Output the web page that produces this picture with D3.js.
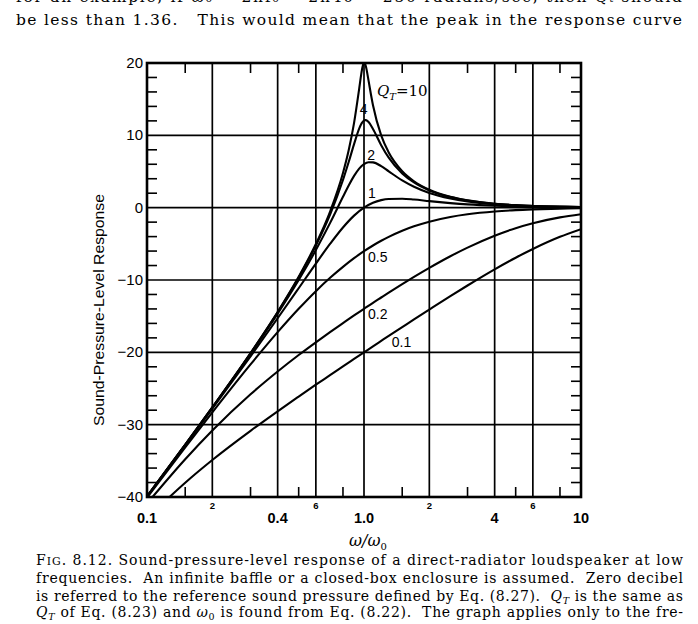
<!DOCTYPE html>
<html><head><meta charset="utf-8">
<script src="https://cdn.jsdelivr.net/npm/d3@7"></script>
<style>
html,body{margin:0;padding:0;background:#fff;}
svg{display:block;}
</style></head>
<body>
<svg id="c" width="698" height="624"></svg>
<script>
// ---- data ----
const xPeak = [0.1,0.15,0.2,0.3,0.4,0.5,0.6,0.7,0.8,0.85,0.9,0.95,0.97,0.98,0.99,1.0,1.01,1.02,1.03,1.05,1.1,1.2,1.3,1.5,1.7,2,2.5,3,4,5,6,8,10];
const q10 = [-39.91,-32.76,-27.61,-20.11,-14.42,-9.56,-5.03,-0.43,4.79,7.93,11.72,16.43,18.36,19.17,19.74,20.0,19.92,19.54,18.95,17.52,14.16,9.99,7.63,5.04,3.65,2.48,1.51,1.01,0.55,0.35,0.24,0.14,0.09];
const q4  = [-39.92,-32.77,-27.62,-20.13,-14.47,-9.66,-5.23,-0.84,3.83,6.31,8.79,10.92,11.53,11.76,11.93,12.04,12.10,12.10,12.06,11.85,10.88,8.64,6.91,4.73,3.48,2.38,1.46,0.98,0.54,0.34,0.24,0.13,0.08];
const xMid = [0.1,0.15,0.2,0.3,0.4,0.5,0.6,0.7,0.8,0.85,0.9,0.95,1.0,1.05,1.1,1.2,1.3,1.5,1.7,2,2.5,3,4,5,6,8,10];
const q2  = [-39.92,-32.79,-27.65,-20.22,-14.65,-10.0,-5.86,-2.03,1.50,3.07,4.39,5.40,6.02,6.28,6.26,5.74,5.02,3.77,2.89,2.04,1.28,0.87,0.48,0.31,0.21,0.12,0.08];
const xBase = [0.1,0.15,0.2,0.3,0.4,0.5,0.6,0.7,0.8,0.9,1.0,1.1,1.2,1.3,1.5,1.7,2,2.5,3,4,5,6,8,10];
const q1  = [-39.96,-32.86,-27.79,-20.55,-15.29,-11.14,-7.73,-4.95,-2.74,-1.10,0,0.68,1.04,1.20,1.23,1.12,0.90,0.63,0.45,0.26,0.17,0.12,0.07,0.04];
const q05 = [-40.09,-33.15,-28.30,-21.67,-17.21,-13.98,-11.54,-9.66,-8.18,-6.98,-6.02,-5.23,-4.58,-4.04,-3.19,-2.58,-1.94,-1.29,-0.92,-0.53,-0.34,-0.24,-0.13,-0.09];
const q02 = [-40.90,-34.77,-30.80,-25.80,-22.65,-20.37,-18.61,-17.17,-15.96,-14.90,-13.98,-13.15,-12.42,-11.75,-10.58,-9.58,-8.33,-6.72,-5.53,-3.88,-2.83,-2.15,-1.34,-0.90];
const q01 = [-42.97,-38.02,-34.88,-30.85,-28.15,-26.12,-24.48,-23.13,-21.95,-20.92,-20.0,-19.17,-18.42,-17.73,-16.51,-15.44,-14.08,-12.23,-10.76,-8.53,-6.92,-5.71,-4.03,-2.97];

const yTicks = [20,10,0,-10,-20,-30,-40];
const yTickLabels = ["20","10","0","\u221210","\u221220","\u221230","\u221240"];
const yMinor = [18,16,14,12,8,6,4,2,-2,-4,-6,-8,-12,-14,-16,-18,-22,-24,-26,-28,-32,-34,-36,-38];
const xGrid = [0.2,0.4,0.6,1,2,4,6];
const xMinor = [0.15,0.3,0.5,0.8,1.5,3,5,8];
const xMajorLabels = [[0.1,"0.1"],[0.4,"0.4"],[1,"1.0"],[4,"4"],[10,"10"]];
const xSmallLabels = [[0.2,"2"],[0.6,"6"],[2,"2"],[6,"6"]];
const curveLabels = [
  {t:"4", x:0.995, y:13.0, a:"middle"},
  {t:"2", x:1.035, y:6.6, a:"start"},
  {t:"1", x:1.043, y:1.4, a:"start"},
  {t:"0.5", x:1.043, y:-7.5, a:"start"},
  {t:"0.2", x:1.043, y:-15.4, a:"start"},
  {t:"0.1", x:1.343, y:-19.3, a:"start"}
];

const svg = d3.select("#c");
const L = 147, R = 581, T = 63, B = 497;
const x = d3.scaleLog().domain([0.1,10]).range([L,R]);
const y = d3.scaleLinear().domain([-40,20]).range([B,T]);

const serif = "'DejaVu Serif','Liberation Serif',serif";
const sans = "'Liberation Sans',Arial,sans-serif";

function textLine(px, py, segs, size, width){
  const t = svg.append("text").attr("x",px).attr("y",py).attr("font-family",serif)
    .attr("font-size",size).attr("xml:space","preserve");
  if(width) t.attr("textLength",width).attr("lengthAdjust","spacing");
  segs.forEach(s=>{
    const sp = t.append("tspan").text(s[0]);
    if(s[1]==="i") sp.attr("font-style","italic");
    if(s[1]==="sc") sp.attr("font-size",size*0.78);
    if(s[1]==="sub") sp.attr("font-style","italic").attr("font-size",size*0.68).attr("dy",2.5);
    if(s[1]==="subn") sp.attr("font-size",size*0.68).attr("dy",2.5);
    if(s[1]==="up") sp.attr("dy",-2.5);
  });
  return t;
}

// running text of the page above the figure (first line cut by the page edge, as in the scan)
svg.append("text").attr("x",16).attr("y",2).attr("font-family",serif).attr("font-size",15.5)
  .attr("textLength",666).attr("lengthAdjust","spacing")
  .text("for an example, if \u03c9\u2080 = 2\u03c0f\u2080 = 2\u03c040 = 250 radians/sec, then Q\u209c should");
textLine(16, 25, [["be less than 1.36.   This would mean that the peak in the response curve"]], 15.5, 666);

// grid
const g = svg.append("g");
g.selectAll(".vg").data(xGrid).join("line")
  .attr("x1",d=>x(d)).attr("x2",d=>x(d)).attr("y1",T).attr("y2",B)
  .attr("stroke","#000").attr("stroke-width",1.7);
g.selectAll(".hg").data(yTicks.slice(1,-1)).join("line")
  .attr("x1",L).attr("x2",R).attr("y1",d=>y(d)).attr("y2",d=>y(d))
  .attr("stroke","#000").attr("stroke-width",1.7);
const tl = 10;
g.selectAll(".ml").data(yMinor).join("line")
  .attr("x1",L).attr("x2",L+tl).attr("y1",d=>y(d)).attr("y2",d=>y(d))
  .attr("stroke","#000").attr("stroke-width",1.6);
g.selectAll(".mr").data(yMinor).join("line")
  .attr("x1",R-tl).attr("x2",R).attr("y1",d=>y(d)).attr("y2",d=>y(d))
  .attr("stroke","#000").attr("stroke-width",1.6);
g.selectAll(".mt").data(xMinor).join("line")
  .attr("x1",d=>x(d)).attr("x2",d=>x(d)).attr("y1",T).attr("y2",T+tl)
  .attr("stroke","#000").attr("stroke-width",1.6);
g.selectAll(".mb").data(xMinor).join("line")
  .attr("x1",d=>x(d)).attr("x2",d=>x(d)).attr("y1",B-tl).attr("y2",B)
  .attr("stroke","#000").attr("stroke-width",1.6);

// curves
svg.append("clipPath").attr("id","clip").append("rect")
  .attr("x",L).attr("y",T-1).attr("width",R-L).attr("height",B-T+1);
const line = d3.line().x(d=>x(d[0])).y(d=>y(d[1])).curve(d3.curveMonotoneX);
const series = [[xPeak,q10],[xPeak,q4],[xMid,q2],[xBase,q1],[xBase,q05],[xBase,q02],[xBase,q01]];
const cg = svg.append("g").attr("clip-path","url(#clip)");
series.forEach(([xs,ys])=>{
  cg.append("path").datum(xs.map((v,i)=>[v,ys[i]]))
    .attr("d",line).attr("fill","none").attr("stroke","#000")
    .attr("stroke-width",2.1).attr("stroke-linejoin","round");
});

// frame
svg.append("rect").attr("x",L).attr("y",T).attr("width",R-L).attr("height",B-T)
  .attr("fill","none").attr("stroke","#000").attr("stroke-width",2.6);

// y labels
svg.selectAll(".yl").data(yTicks).join("text")
  .attr("x",L-4).attr("y",d=>y(d)+5).attr("text-anchor","end")
  .attr("font-family",sans).attr("font-size",15).attr("fill","#000")
  .text((d,i)=>yTickLabels[i]);
// x labels
svg.selectAll(".xl").data(xMajorLabels).join("text")
  .attr("x",d=>x(d[0])).attr("y",523).attr("text-anchor","middle")
  .attr("font-family",sans).attr("font-size",14.5).attr("font-weight","bold").text(d=>d[1]);
svg.selectAll(".xs").data(xSmallLabels).join("text")
  .attr("x",d=>x(d[0])).attr("y",509).attr("text-anchor","middle")
  .attr("font-family",sans).attr("font-size",9.5).attr("font-weight","bold").text(d=>d[1]);

// curve labels
svg.selectAll(".cl").data(curveLabels).join("text")
  .attr("x",d=>x(d.x)).attr("y",d=>y(d.y)).attr("text-anchor",d=>d.a)
  .attr("font-family",sans).attr("font-size",14).text(d=>d.t);
const qt = svg.append("text").attr("x",377).attr("y",96).attr("font-family",serif).attr("font-size",15);
qt.append("tspan").attr("font-style","italic").text("Q");
qt.append("tspan").attr("font-style","italic").attr("font-size",10).attr("dy",4).text("T");
qt.append("tspan").attr("dy",-4).text("=10");

// axis titles
svg.append("text").attr("transform","translate(104,310) rotate(-90)")
  .attr("text-anchor","middle").attr("font-family",sans).attr("font-size",15)
  .attr("textLength",232).attr("lengthAdjust","spacingAndGlyphs")
  .text("Sound-Pressure-Level Response");
const xt = svg.append("text").attr("x",368).attr("y",546).attr("text-anchor","middle")
  .attr("font-family",serif).attr("font-size",16).attr("font-style","italic");
xt.append("tspan").text("\u03c9/\u03c9");
xt.append("tspan").attr("font-size",10).attr("font-style","normal").attr("dy",4).text("0");

// caption
const capSize = 14;
textLine(36, 565, [["F"],["IG","sc"],[". 8.12. Sound-pressure-level response of a direct-radiator loudspeaker at low"]], capSize, 647);
textLine(36, 583, [["frequencies.  An infinite baffle or a closed-box enclosure is assumed.  Zero decibel"]], capSize, 647);
textLine(36, 601, [["is referred to the reference sound pressure defined by Eq. (8.27).  "],["Q","i"],["T","sub"],[" is the same as","up"]], capSize, 647);
textLine(36, 617, [["Q","i"],["T","sub"],[" of Eq. (8.23) and ","up"],["\u03c9","i"],["0","subn"],[" is found from Eq. (8.22).  The graph applies only to the fre-","up"]], capSize, 647);
</script>
</body></html>
